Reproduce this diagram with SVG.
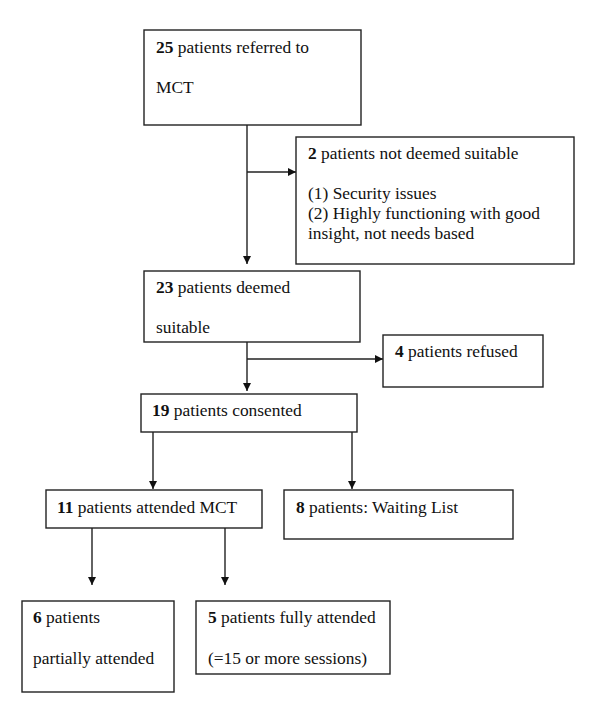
<svg xmlns="http://www.w3.org/2000/svg" width="600" height="714" viewBox="0 0 600 714">
<defs>
<style>
.box{fill:#fff;stroke:#222;stroke-width:1.4}
.t{font-family:"Liberation Serif","Times New Roman",serif;font-size:17.4px;fill:#111}
.b{font-weight:bold}
.c{fill:none;stroke:#222;stroke-width:1.4}
</style>
<marker id="ah" viewBox="0 0 10 10" refX="10" refY="5" markerWidth="8" markerHeight="8" markerUnits="userSpaceOnUse" orient="auto">
<path d="M0,0 L10,5 L0,10 Z" fill="#111"/>
</marker>
</defs>
<rect width="600" height="714" fill="#fff"/>
<g id="connectors">
<line class="c" x1="247" y1="125" x2="247" y2="264" marker-end="url(#ah)"/>
<line class="c" x1="247" y1="172" x2="296" y2="172" marker-end="url(#ah)"/>
<line class="c" x1="247" y1="342" x2="247" y2="391" marker-end="url(#ah)"/>
<line class="c" x1="247" y1="359" x2="383" y2="359" marker-end="url(#ah)"/>
<line class="c" x1="153" y1="432" x2="153" y2="489" marker-end="url(#ah)"/>
<line class="c" x1="352" y1="432" x2="352" y2="489" marker-end="url(#ah)"/>
<line class="c" x1="92" y1="528" x2="92" y2="585" marker-end="url(#ah)"/>
<line class="c" x1="225" y1="528" x2="225" y2="585" marker-end="url(#ah)"/>
</g>
<g id="n1">
<rect class="box" x="144" y="30" width="217" height="95"/>
<text class="t" x="156" y="53"><tspan class="b">25</tspan> patients referred to</text>
<text class="t" x="156" y="93">MCT</text>
</g>
<g id="n2">
<rect class="box" x="296" y="137" width="278" height="127"/>
<text class="t" x="308" y="159"><tspan class="b">2</tspan> patients not deemed suitable</text>
<text class="t" x="308" y="199">(1) Security issues</text>
<text class="t" x="308" y="219">(2) Highly functioning with good</text>
<text class="t" x="308" y="239">insight, not needs based</text>
</g>
<g id="n3">
<rect class="box" x="144" y="271" width="216" height="71"/>
<text class="t" x="156" y="293"><tspan class="b">23</tspan> patients deemed</text>
<text class="t" x="156" y="333">suitable</text>
</g>
<g id="n4">
<rect class="box" x="383" y="335" width="160" height="52"/>
<text class="t" x="395" y="357"><tspan class="b">4</tspan> patients refused</text>
</g>
<g id="n5">
<rect class="box" x="141" y="394" width="216" height="38"/>
<text class="t" x="152" y="416"><tspan class="b">19</tspan> patients consented</text>
</g>
<g id="n6">
<rect class="box" x="46" y="490" width="216" height="38"/>
<text class="t" x="57" y="513"><tspan class="b">11</tspan> patients attended MCT</text>
</g>
<g id="n7">
<rect class="box" x="284" y="490" width="229" height="49"/>
<text class="t" x="296" y="513"><tspan class="b">8</tspan> patients: Waiting List</text>
</g>
<g id="n8">
<rect class="box" x="22" y="601" width="152" height="91"/>
<text class="t" x="33" y="623"><tspan class="b">6</tspan> patients</text>
<text class="t" x="33" y="664">partially attended</text>
</g>
<g id="n9">
<rect class="box" x="196" y="601" width="194" height="73"/>
<text class="t" x="208" y="623"><tspan class="b">5</tspan> patients fully attended</text>
<text class="t" x="208" y="664">(=15 or more sessions)</text>
</g>
</svg>
